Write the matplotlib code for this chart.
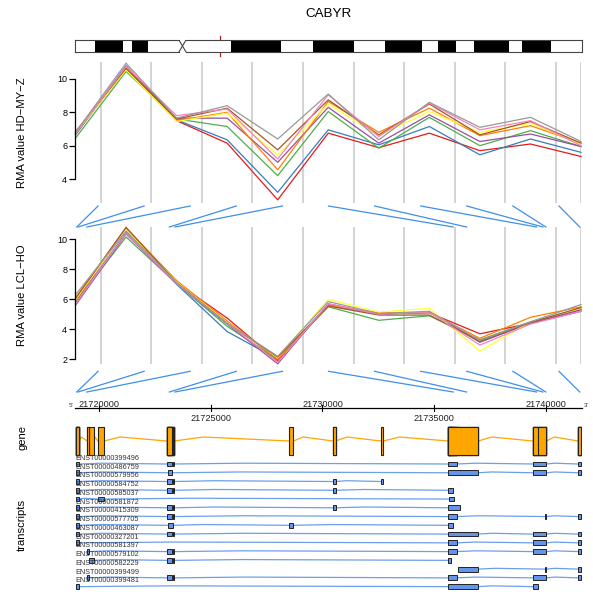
import matplotlib
matplotlib.use('Agg')
import matplotlib.pyplot as plt
from matplotlib.patches import Rectangle

plt.rcParams['font.family'] = ['Liberation Sans', 'DejaVu Sans']

# 染色体18 条带 (Mb)
bands = [
    (0.0, 3.1, 'gneg'), (3.1, 7.4, 'gpos'), (7.4, 8.8, 'gneg'), (8.8, 11.2, 'gpos'),
    (11.2, 16.0, 'gneg'), (16.0, 17.1, 'acen'), (17.1, 24.0, 'gneg'), (24.0, 31.7, 'gpos'),
    (31.7, 36.6, 'gneg'), (36.6, 42.9, 'gpos'), (42.9, 47.7, 'gneg'), (47.7, 53.4, 'gpos'),
    (53.4, 55.9, 'gneg'), (55.9, 58.7, 'gpos'), (58.7, 61.5, 'gneg'), (61.5, 66.8, 'gpos'),
    (66.8, 68.8, 'gneg'), (68.8, 73.3, 'gpos'), (73.3, 78.08, 'gneg'),
]
chrom_len = 78.08
region_mark = 22.4

# 基因组坐标范围
gstart, gend = 21718920, 21741620
tick_pos = [21720000, 21725000, 21730000, 21735000, 21740000]

# 探针在基因组上的位置
probe_pos = [21719000, 21719060, 21719450, 21723145, 21723400, 21735850,
             21736450, 21739585, 21739865, 21740000, 21741520]

# RMA 表达值, 每行一个样本
hd_my_z = [
    [6.75, 10.6, 7.5, 6.15, 2.75, 6.75, 5.88, 6.75, 5.7, 6.1, 5.35],
    [6.7, 10.8, 7.55, 6.35, 3.2, 6.95, 6.05, 7.15, 5.45, 6.4, 5.6],
    [6.45, 10.45, 7.6, 7.15, 4.2, 8.05, 5.85, 7.7, 6.0, 6.9, 5.95],
    [6.65, 10.7, 7.65, 7.65, 5.0, 8.3, 6.15, 7.85, 6.25, 6.7, 5.95],
    [6.85, 10.55, 7.5, 8.0, 4.55, 8.65, 6.8, 8.25, 6.6, 7.2, 6.15],
    [6.75, 10.55, 7.45, 7.95, 5.45, 8.5, 6.6, 8.05, 6.8, 7.35, 6.1],
    [6.8, 10.65, 7.6, 8.25, 5.75, 8.75, 6.65, 8.5, 6.65, 7.45, 6.15],
    [6.75, 10.75, 7.8, 8.2, 5.2, 9.05, 6.55, 8.55, 6.95, 7.5, 6.0],
    [6.8, 10.95, 7.65, 8.4, 6.4, 9.1, 6.35, 8.6, 7.1, 7.7, 6.25],
]
lcl_ho = [
    [5.85, 10.7, 7.1, 4.75, 1.9, 5.6, 5.05, 5.1, 3.7, 4.4, 5.2],
    [5.75, 10.45, 7.0, 3.85, 2.0, 5.65, 5.0, 5.15, 3.15, 4.45, 5.35],
    [5.8, 10.15, 7.05, 4.2, 2.0, 5.5, 4.6, 4.9, 3.3, 4.5, 5.35],
    [5.6, 10.35, 7.05, 4.35, 1.7, 5.7, 5.0, 5.15, 3.15, 4.4, 5.3],
    [6.1, 10.75, 7.25, 4.55, 2.0, 5.6, 5.1, 5.1, 3.4, 4.8, 5.5],
    [5.95, 10.65, 7.15, 4.45, 2.1, 6.0, 5.15, 5.4, 2.55, 4.5, 5.4],
    [6.05, 10.8, 7.1, 4.4, 2.15, 5.55, 4.95, 4.95, 3.2, 4.45, 5.45],
    [5.7, 10.4, 7.05, 4.4, 1.8, 5.7, 5.0, 5.15, 2.95, 4.35, 5.2],
    [6.3, 10.55, 7.1, 4.4, 2.2, 5.85, 5.05, 5.2, 3.25, 4.5, 5.65],
]
colors = ['#E41A1C', '#377EB8', '#4DAF4A', '#984EA3', '#FF7F00',
          '#FFFF33', '#A65628', '#F781BF', '#999999']

# 外显子
A = (21718970, 21719105)
B = (21719475, 21719555)
C = (21719565, 21719775)
D = (21719940, 21720225)
F1 = (21723030, 21723255)
F2 = (21723300, 21723370)
F3 = (21723075, 21723265)
F4 = (21723075, 21723300)
G = (21728515, 21728695)
Hx = (21730485, 21730590)
I = (21732615, 21732720)
J1 = (21735630, 21736005)
J2 = (21735630, 21736970)
J3 = (21735630, 21735840)
J4 = (21735675, 21735885)
J5 = (21735630, 21736165)
J7 = (21735630, 21735735)
J8 = (21736075, 21736970)
K = (21739405, 21740030)
K2 = (21739955, 21740030)
K3 = (21739430, 21739630)
L = (21741445, 21741555)

tx_names = ['ENST00000399496', 'ENST00000486759', 'ENST00000579956', 'ENST00000584752',
            'ENST00000585037', 'ENST00000581872', 'ENST00000415309', 'ENST00000577705',
            'ENST00000463087', 'ENST00000327201', 'ENST00000581397', 'ENST00000579102',
            'ENST00000582229', 'ENST00000399499', 'ENST00000399481']
tx_exons = [
    [A, F1, F2, J1, K, L],
    [A, F3, J2, K, L],
    [A, F1, F2, Hx, I],
    [A, F1, F2, Hx, J3],
    [A, D, J4],
    [A, F1, F2, Hx, J5],
    [A, F1, F2, J1, K2, L],
    [A, F4, G, J3],
    [A, F1, F2, J2, K, L],
    [A, J1, K, L],
    [B, F1, F2, J1, K, L],
    [C, F1, F2, J7],
    [J8, K2, L],
    [B, F1, F2, J1, K, L],
    [A, J2, K3],
]

W, H = 593, 592
fig = plt.figure(figsize=(W / 100, H / 100), dpi=100)


def px_axes(x0, y0, x1, y1):
    return fig.add_axes([x0 / W, 1 - y1 / H, (x1 - x0) / W, (y1 - y0) / H])


def intron_line(ax, exons, y, peak, color, lw):
    blocks = []
    for s, e in sorted(exons):
        if blocks and s <= blocks[-1][1]:
            blocks[-1][1] = max(blocks[-1][1], e)
        else:
            blocks.append([s, e])
    for (s0, e0), (s1, e1) in zip(blocks[:-1], blocks[1:]):
        mid = e0 + 0.25 * (s1 - e0)
        ax.plot([e0, mid, s1], [y, y - peak, y], color=color, lw=lw, zorder=1)


fig.text(329 / W, 1 - 14 / H, 'CABYR', ha='center', va='center', fontsize=9.6)

# 染色体示意图
axi = px_axes(75, 40, 582, 52)
axi.set_xlim(0, chrom_len)
axi.set_ylim(0, 1)
axi.axis('off')
axi.plot([region_mark, region_mark], [-0.3, 1.3], color='#b22222', lw=0.9, zorder=0, clip_on=False)
oc = '#444444'
for s, e, stain in bands:
    if stain == 'acen':
        axi.add_patch(Rectangle((s, 0), e - s, 1, fc='white', ec='none', zorder=1))
        axi.plot([s, e], [1, 0], color=oc, lw=0.8, zorder=3)
        axi.plot([s, e], [0, 1], color=oc, lw=0.8, zorder=3)
        cen = (s, e)
        continue
    fc = 'black' if stain == 'gpos' else 'white'
    axi.add_patch(Rectangle((s, 0), e - s, 1, fc=fc, ec='none', zorder=1))
for y in (0, 1):
    axi.plot([0, cen[0]], [y, y], color=oc, lw=0.8, zorder=3, clip_on=False)
    axi.plot([cen[1], chrom_len], [y, y], color=oc, lw=0.8, zorder=3, clip_on=False)
axi.plot([0, 0], [0, 1], color=oc, lw=0.8, zorder=3, clip_on=False)
axi.plot([chrom_len, chrom_len], [0, 1], color=oc, lw=0.8, zorder=3, clip_on=False)

# 两个表达数据面板
panels = [
    (hd_my_z, (62, 203), (2.56, 11.02), [4, 6, 8, 10], 'RMA value HD\u2212MY\u2212Z'),
    (lcl_ho, (226.7, 364.3), (1.667, 10.84), [2, 4, 6, 8, 10], 'RMA value LCL\u2212HO'),
]
npos = len(probe_pos)
xs = list(range(npos))
for data, (ytop, ybot), ylim, yt, label in panels:
    ax = px_axes(75.5, ytop, 581, ybot)
    ax.set_xlim(0, npos - 1)
    ax.set_ylim(*ylim)
    grid_x = [i + 0.5 for i in range(npos - 1)] + [npos - 1]
    ax.vlines(grid_x, ylim[0], ylim[1], color='#cccccc', lw=1.2, zorder=1)
    for vals, c in zip(data, colors):
        ax.plot(xs, vals, color=c, lw=0.9, zorder=2, clip_on=False)
    for side in ('top', 'right', 'bottom'):
        ax.spines[side].set_visible(False)
    ax.spines['left'].set_bounds(yt[0], yt[-1])
    ax.spines['left'].set_linewidth(0.9)
    ax.set_xticks([])
    ax.set_yticks(yt)
    ax.tick_params(axis='y', length=4, width=0.9, labelsize=6.5, pad=2)
    ax.patch.set_alpha(0)
    fig.text(22 / W, 1 - (ytop + ybot) / 2 / H, label, rotation=90,
             ha='center', va='center', fontsize=8.1)

# 基因组轴、映射线、基因和转录本
axg = px_axes(75, 200, 582, 592)
axg.set_xlim(gstart, gend)
axg.set_ylim(592, 200)
axg.axis('off')
axg.patch.set_alpha(0)

for y0, y1 in [(206, 227), (371.3, 392)]:
    for i, p in enumerate(probe_pos):
        top_x = gstart + (i + 0.5) / npos * (gend - gstart)
        axg.plot([top_x, p], [y0, y1], color='#3f8fea', lw=0.9)

axg.plot([gstart, gend], [408.3, 408.3], color='black', lw=0.9, clip_on=False)
for k, t in enumerate(tick_pos):
    axg.plot([t, t], [405.5, 411.5], color='black', lw=0.8)
    ty = 407.5 if k % 2 == 0 else 421
    axg.text(t, ty, str(t), ha='center', va='baseline', fontsize=6.6, color='#222222')
axg.text(gstart - 60, 407, "5'", ha='right', va='baseline', fontsize=4.5, color='#333333')
axg.text(gend + 60, 407, "3'", ha='left', va='baseline', fontsize=4.5, color='#333333')

all_exons = [ex for exs in tx_exons for ex in exs]
intron_line(axg, all_exons, 441, 4, '#FFA500', 0.9)
for s, e in all_exons:
    axg.add_patch(Rectangle((s, 427), e - s, 28, fc='#FFA500', ec='#222222', lw=0.8, zorder=2))
fig.text(22 / W, 1 - 438 / H, 'gene', rotation=90, ha='center', va='center', fontsize=8.1)

for k, (name, exs) in enumerate(zip(tx_names, tx_exons)):
    ry = 464 + 8.76 * k
    intron_line(axg, exs, ry, 0.8, '#6d9eeb', 0.9)
    for s, e in exs:
        axg.add_patch(Rectangle((s, ry - 2.4), e - s, 4.8, fc='#6495ED', ec='#222222', lw=0.7, zorder=2))
    axg.text(gstart, ry - 5.7, name, ha='left', va='center', fontsize=5.2, color='#333333')
fig.text(22 / W, 1 - 525 / H, 'transcripts', rotation=90, ha='center', va='center', fontsize=8.1)

fig.savefig('out.png', dpi=100)
